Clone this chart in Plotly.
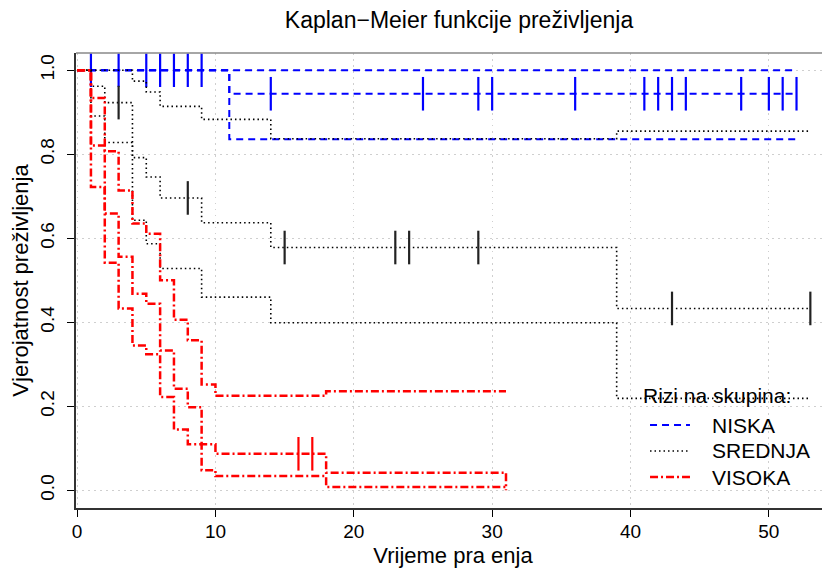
from __future__ import annotations

import plotly.graph_objects as go

# NISKA (low risk)
niska_time = [0, 11, 52]
niska_surv = [1.0, 0.944, 0.944]
niska_upper = [1.0, 1.0, 1.0]
niska_lower = [1.0, 0.836, 0.836]
niska_censor = [1, 3, 5, 6, 7, 8, 9, 14, 25, 29, 30, 36, 41, 42, 43, 44, 48, 50, 51, 52]

# SREDNJA (medium risk)
srednja_time = [0, 1, 2, 4, 5, 6, 9, 14, 39, 53]
srednja_surv = [1.0, 0.962, 0.923, 0.792, 0.746, 0.696, 0.637, 0.578, 0.433, 0.433]
srednja_upper = [1.0, 1.0, 1.0, 0.974, 0.948, 0.914, 0.883, 0.837, 0.855, 0.855]
srednja_lower = [1.0, 0.891, 0.828, 0.643, 0.587, 0.528, 0.46, 0.399, 0.219, 0.219]
srednja_censor = [3, 8, 15, 23, 24, 29, 43, 53]

# VISOKA (high risk)
visoka_time = [0, 1, 2, 3, 4, 5, 6, 7, 8, 9, 10, 18, 31]
visoka_surv = [1.0, 0.821, 0.659, 0.556, 0.468, 0.444, 0.333, 0.242, 0.198, 0.11, 0.087, 0.042, 0.0]
visoka_upper = [1.0, 0.934, 0.807, 0.714, 0.635, 0.611, 0.5, 0.406, 0.357, 0.252, 0.225, 0.236, 0.236]
visoka_lower = [1.0, 0.722, 0.542, 0.433, 0.345, 0.324, 0.222, 0.145, 0.11, 0.048, 0.034, 0.008, 0.008]
visoka_censor = [16, 17]

x_ticks = [0, 10, 20, 30, 40, 50]
y_ticks = [0.0, 0.2, 0.4, 0.6, 0.8, 1.0]

FONT = "Liberation Sans, Arial, sans-serif"

GROUPS = [
    ("NISKA", niska_time, niska_surv, niska_upper, niska_lower, niska_censor,
     "#0000FF", "7px,5px", 2.0, "#0000FF"),
    ("SREDNJA", srednja_time, srednja_surv, srednja_upper, srednja_lower, srednja_censor,
     "#000000", "1.5px,3px", 1.6, "#222222"),
    ("VISOKA", visoka_time, visoka_surv, visoka_upper, visoka_lower, visoka_censor,
     "#FF0000", "8px,3px,2px,3px", 2.5, "#FF0000"),
]


def step_value(times, values, t):
    # value of the right-continuous step function at time t
    result = values[0]
    for time, value in zip(times, values):
        if time <= t:
            result = value
    return result


fig = go.Figure()

for name, times, surv, upper, lower, censor, color, dash, width, tick_color in GROUPS:
    line = dict(color=color, width=width, dash=dash, shape="hv")
    for series in (upper, lower):
        fig.add_trace(go.Scatter(
            x=times, y=series, mode="lines", line=line,
            showlegend=False, hoverinfo="skip",
        ))
    fig.add_trace(go.Scatter(
        x=times, y=surv, mode="lines", line=line, name=name, showlegend=False,
    ))
    fig.add_trace(go.Scatter(
        x=censor,
        y=[step_value(times, surv, t) for t in censor],
        mode="markers",
        marker=dict(symbol="line-ns", size=24, line=dict(color=tick_color, width=2.2)),
        showlegend=False, name=name,
    ))

# box top edge
fig.add_shape(
    type="line", xref="paper", yref="paper", x0=0, x1=1, y0=1, y1=1,
    line=dict(color="#888888", width=1.5),
)

# legend drawn by hand so the row spacing matches
fig.add_annotation(
    text="Rizi na skupina:", xref="paper", yref="paper", x=0.850, y=0.248,
    xanchor="center", yanchor="middle", showarrow=False,
    font=dict(size=21, family=FONT, color="black"),
)
legend_y = [0.1824, 0.1253, 0.0681]
for (name, *_rest, color, dash, width, _tc), ly in zip(GROUPS, legend_y):
    fig.add_shape(
        type="line", xref="paper", yref="paper", x0=0.7613, x1=0.8143, y0=ly, y1=ly,
        line=dict(color=color, width=width, dash=dash),
    )
    fig.add_annotation(
        text=name, xref="paper", yref="paper", x=0.8408, y=ly,
        xanchor="left", yanchor="middle", showarrow=False,
        font=dict(size=21, family=FONT, color="black"),
    )

# the page body adds an 8px offset, so the figure is 8px smaller on each axis
fig.update_layout(
    width=822,
    height=565,
    paper_bgcolor="white",
    plot_bgcolor="white",
    margin=dict(l=68, r=0, t=45, b=65, autoexpand=False),
    font=dict(family=FONT, color="black", size=19),
    showlegend=False,
    title=dict(
        text="Kaplan\u2212Meier funkcije pre\u017eivljenja",
        x=0.508, xref="paper", xanchor="center",
        y=0.979, yref="container", yanchor="middle",
        font=dict(size=23, family=FONT, color="black"),
    ),
)

fig.update_xaxes(
    range=[-0.08, 54.42],
    tickvals=x_ticks,
    ticks="outside", ticklen=7, tickcolor="black",
    showline=True, linecolor="#333333", linewidth=1.5,
    showgrid=True, gridcolor="#cfcfcf", griddash="1.5px,4.5px", gridwidth=1,
    zeroline=False, automargin=False,
    tickfont=dict(size=19),
    ticklabelstandoff=-2,
    title=dict(text="Vrijeme pra enja", font=dict(size=22), standoff=7),
)
fig.update_yaxes(
    range=[-0.042, 1.041],
    tickvals=y_ticks,
    tickformat=".1f",
    tickangle=-90,
    ticks="outside", ticklen=7, tickcolor="black",
    showline=True, linecolor="#333333", linewidth=1.5,
    showgrid=True, gridcolor="#cfcfcf", griddash="1.5px,4.5px", gridwidth=1,
    zeroline=False, automargin=False,
    tickfont=dict(size=19),
    ticklabelstandoff=6,
    title=dict(text="Vjerojatnost pre\u017eivljenja", font=dict(size=22), standoff=6),
)

fig.write_html("out.html")
